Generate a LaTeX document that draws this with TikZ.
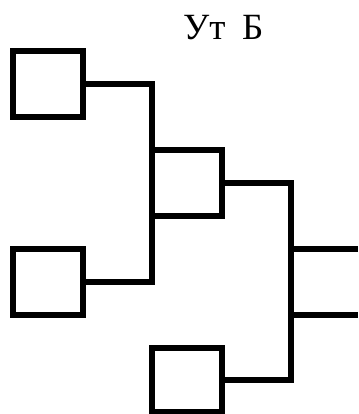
\documentclass[tikz,border=0pt]{standalone}
\usepackage{fontspec}
\setmainfont{Liberation Serif}
\begin{document}
\begin{tikzpicture}[x=1pt,y=-1pt,
  blk/.style={draw,line width=6pt,minimum width=69.5pt,minimum height=65.5pt,inner sep=0pt,outer sep=0pt},
  wire/.style={line width=6pt}]
\useasboundingbox (0,0) rectangle (358,414);
\node[anchor=base west,inner sep=0pt,font=\fontsize{37}{40}\selectfont] (t) at (183,40) {Ут\hspace{0.45em}Б};
\node[blk] (b1) at (47.75,84) {};
\node[blk] (b4) at (47.75,282) {};
\node[blk,minimum width=70pt] (b2) at (186.5,182.75) {};
\node[blk,minimum height=63.5pt] (b3) at (186.75,379.75) {};
\coordinate (j) at (291,280);
\coordinate (o1) at (358,249);
\coordinate (o2) at (358,314.7);
\draw[wire] (b1.east) -| (b2.west) |- (b4.east);
\draw[wire] (b2.east) -| (j) |- (b3.east);
\draw[wire] (j |- o1) -- (o1);
\draw[wire] (j |- o2) -- (o2);
\end{tikzpicture}
\end{document}
